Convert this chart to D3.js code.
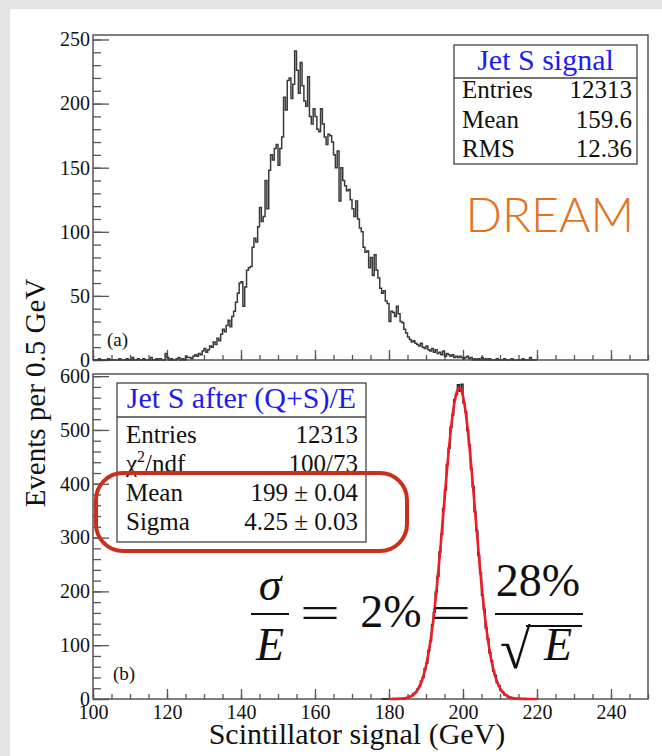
<!DOCTYPE html>
<html>
<head>
<meta charset="utf-8">
<script src="https://cdn.jsdelivr.net/npm/d3@7"></script>
<style>
  html, body { margin: 0; padding: 0; background: #e4e4e2; }
  svg { display: block; }
</style>
</head>
<body>
<svg id="chart" width="662" height="756"></svg>
<script>
// ---- data -------------------------------------------------------------
const binWidth = 0.5;                       // GeV per bin
const xTickValues = [100, 120, 140, 160, 180, 200, 220, 240];
const topYTicks = [0, 50, 100, 150, 200, 250];
const bottomYTicks = [0, 100, 200, 300, 400, 500, 600];

// Raw scintillator signal, bins from 100 GeV
const jetSFirstEdge = 100;
const jetSCounts = [
  0, 0, 0, 1, 0, 0, 0, 0, 1, 0,
  0, 0, 0, 0, 1, 0, 0, 0, 1, 0,
  0, 2, 0, 0, 1, 0, 0, 1, 0, 0,
  0, 2, 0, 0, 1, 0, 1, 0, 0, 5,
  2, 0, 1, 0, 0, 1, 2, 0, 1, 0,
  3, 2, 2, 1, 3, 4, 3, 5, 4, 7,
  9, 6, 8, 11, 10, 14, 12, 17, 15, 20,
  24, 22, 27, 31, 26, 34, 38, 45, 52, 60,
  61, 42, 57, 70, 72, 73, 88, 95, 92, 104,
  119, 108, 112, 140, 118, 148, 160, 156, 165, 168,
  152, 165, 174, 205, 195, 218, 220, 204, 215, 241,
  226, 208, 232, 214, 202, 198, 221, 190, 184, 196,
  190, 180, 178, 196, 184, 174, 168, 176, 175, 170,
  160, 150, 163, 124, 150, 140, 136, 132, 133, 125,
  118, 112, 124, 110, 103, 100, 88, 84, 85, 72,
  80, 66, 82, 70, 64, 56, 52, 54, 46, 44,
  30, 38, 37, 34, 42, 36, 30, 29, 24, 21,
  18, 16, 14, 15, 13, 12, 11, 13, 10, 9,
  11, 8, 7, 9, 6, 8, 5, 6, 4, 7,
  3, 5, 4, 3, 4, 2, 3, 2, 3, 2,
  1, 2, 3, 1, 2, 0, 1, 0, 1, 0,
  2, 0, 1, 0, 1, 0, 0, 0, 1, 0,
  0, 0, 1, 0, 0, 0, 1, 0, 0, 0,
  0, 0, 1, 0, 0, 0, 2, 0, 0, 0
];

// Signal after (Q+S)/E correction, bins from 178 GeV
const jetSCorrFirstEdge = 178;
const jetSCorrCounts = [
  0, 0, 0, 0, 0, 0, 1, 0, 0, 1,
  1, 0, 1, 2, 3, 5, 6, 10, 12, 18,
  23, 33, 40, 56, 67, 90, 108, 138, 161, 199,
  228, 273, 306, 354, 389, 436, 466, 505, 528, 556,
  566, 584, 572, 585, 550, 534, 499, 472, 428, 395,
  348, 313, 267, 234, 193, 167, 132, 112, 86, 71,
  52, 44, 30, 25, 16, 13, 8, 7, 4, 3,
  2, 1, 1, 0, 1, 0, 0, 1, 0, 0
];

// Gaussian fit parameters
const fitConstant = 578;
const fitMean = 199;
const fitSigma = 4.25;
const fitRange = [180, 220];

const statsTopTitle = "Jet S signal";
const statsTopLabels = ["Entries", "Mean", "RMS"];
const statsTopValues = ["12313", "159.6", "12.36"];
const statsBottomTitle = "Jet S after (Q+S)/E";
const statsBottomLabels = ["Entries", "χ2/ndf", "Mean", "Sigma"];
const statsBottomValues = ["12313", "100/73", "199 \u00b1 0.04", "4.25 \u00b1 0.03"];

// ---- layout -----------------------------------------------------------
const serif = "'Liberation Serif', 'Times New Roman', serif";
const svg = d3.select("#chart");

// white page
svg.append("rect").attr("x", 10).attr("y", 9).attr("width", 652).attr("height", 747).attr("fill", "#ffffff");

const x = d3.scaleLinear().domain([100, 250]).range([93, 648]);
const yTop = d3.scaleLinear().domain([0, 253.5]).range([360, 35]);
const yBot = d3.scaleLinear().domain([0, 604]).range([699, 374]);

function range(a, b, s) { const r = []; for (let v = a; v <= b + 1e-9; v += s) r.push(v); return r; }

function stepPath(first, counts, y) {
  const end = first + counts.length * binWidth;
  const pts = [[first, 0]];
  counts.forEach((c, i) => pts.push([first + i * binWidth, c]));
  pts.push([end, counts[counts.length - 1]]);
  pts.push([end, 0]);
  return d3.line().x(d => x(d[0])).y(d => y(d[1])).curve(d3.curveStepAfter)(pts);
}

function styleAxis(g) {
  g.attr("font-family", serif).attr("font-size", 20);
  g.select(".domain").remove();
  g.selectAll(".tick line").attr("stroke", "#555").attr("stroke-width", 1.3);
  g.selectAll("text").attr("font-family", serif).attr("font-size", 20).attr("fill", "#111");
}

function panel(y, yMajor, yMinorStep, showXLabels) {
  const [y0, y1] = y.range();
  // minor y ticks
  svg.append("g").attr("transform", `translate(${x(100)},0)`)
    .call(d3.axisLeft(y).tickValues(range(0, y.domain()[1], yMinorStep)).tickSize(-8).tickFormat(""))
    .call(styleAxis);
  // major y ticks with labels
  svg.append("g").attr("transform", `translate(${x(100)},0)`)
    .call(d3.axisLeft(y).tickValues(yMajor).tickSize(-16).tickPadding(3).tickFormat(d3.format("d")))
    .call(styleAxis);
  // minor x ticks
  svg.append("g").attr("transform", `translate(0,${y0})`)
    .call(d3.axisBottom(x).tickValues(range(100, 250, 5)).tickSize(-5).tickFormat(""))
    .call(styleAxis);
  // major x ticks
  const gx = svg.append("g").attr("transform", `translate(0,${y0})`)
    .call(d3.axisBottom(x).tickValues(xTickValues).tickSize(-10).tickFormat(showXLabels ? d3.format("d") : ""))
    .call(styleAxis);
  gx.selectAll("text").attr("y", 20).attr("dy", 0);
  // frame
  svg.append("rect").attr("x", x(100)).attr("y", y1).attr("width", x(250) - x(100)).attr("height", y0 - y1)
    .attr("fill", "none").attr("stroke", "#555").attr("stroke-width", 1.5);
}

// ---- top panel --------------------------------------------------------
panel(yTop, topYTicks, 10, false);
svg.append("path").attr("d", stepPath(jetSFirstEdge, jetSCounts, yTop))
  .attr("fill", "none").attr("stroke", "#3a3a3a").attr("stroke-width", 1.5);

svg.append("text").attr("x", 107).attr("y", 346).attr("font-family", serif).attr("font-size", 19).attr("fill", "#111").text("(a)");

function statBox(bx, by, bw, bh, titleH, title, titleBaseline, labels, values, rowBaselines, lx, rx) {
  const g = svg.append("g");
  g.append("rect").attr("x", bx).attr("y", by).attr("width", bw).attr("height", bh)
    .attr("fill", "#fff").attr("stroke", "#444").attr("stroke-width", 1.3);
  g.append("line").attr("x1", bx).attr("x2", bx + bw).attr("y1", by + titleH).attr("y2", by + titleH)
    .attr("stroke", "#444").attr("stroke-width", 1.3);
  g.append("text").attr("x", bx + bw / 2).attr("y", titleBaseline).attr("text-anchor", "middle")
    .attr("font-family", serif).attr("font-size", 30).attr("fill", "#1c1cf0").text(title);
  labels.forEach((l, i) => {
    const t = g.append("text").attr("x", lx).attr("y", rowBaselines[i]).attr("font-family", serif)
      .attr("font-size", 25).attr("fill", "#111");
    if (l === "χ2/ndf") {
      t.append("tspan").text("χ");
      t.append("tspan").attr("dy", -10).attr("font-size", 16).text("2");
      t.append("tspan").attr("dy", 10).text("/ndf");
    } else t.text(l);
    g.append("text").attr("x", rx).attr("y", rowBaselines[i]).attr("text-anchor", "end")
      .attr("font-family", serif).attr("font-size", 25).attr("fill", "#111").text(values[i]);
  });
}

statBox(454, 45, 183, 119, 33, statsTopTitle, 70, statsTopLabels, statsTopValues, [98, 128, 157], 462, 632);

svg.append("text").attr("x", 634).attr("y", 232).attr("text-anchor", "end")
  .attr("font-family", "Lato, 'Open Sans', sans-serif").attr("font-weight", 300)
  .attr("font-size", 48).attr("fill", "#e5721a").text("DREAM");

// ---- bottom panel -----------------------------------------------------
panel(yBot, bottomYTicks, 20, true);
svg.append("path").attr("d", stepPath(jetSCorrFirstEdge, jetSCorrCounts, yBot))
  .attr("fill", "none").attr("stroke", "#222").attr("stroke-width", 1.5);

const fitPts = range(fitRange[0], fitRange[1], 0.1)
  .map(v => [v, fitConstant * Math.exp(-0.5 * Math.pow((v - fitMean) / fitSigma, 2))]);
svg.append("path").attr("d", d3.line().x(d => x(d[0])).y(d => yBot(d[1])).curve(d3.curveBasis)(fitPts))
  .attr("fill", "none").attr("stroke", "#ee1c24").attr("stroke-width", 2.6);

svg.append("text").attr("x", 113).attr("y", 680).attr("font-family", serif).attr("font-size", 19).attr("fill", "#111").text("(b)");

statBox(117, 383, 249, 159, 34, statsBottomTitle, 408, statsBottomLabels, statsBottomValues, [443, 472, 501, 530], 126, 358);

// highlight around the fit results
svg.append("rect").attr("x", 96).attr("y", 473).attr("width", 311).attr("height", 78).attr("rx", 27)
  .attr("fill", "none").attr("stroke", "#c8301c").attr("stroke-width", 4);

// resolution formula
const fm = svg.append("g").attr("font-family", serif).attr("fill", "#111");
fm.append("text").attr("x", 270).attr("y", 600).attr("text-anchor", "middle").attr("font-style", "italic").attr("font-size", 46).text("σ");
fm.append("line").attr("x1", 251).attr("x2", 289).attr("y1", 614).attr("y2", 614).attr("stroke", "#111").attr("stroke-width", 2);
fm.append("text").attr("x", 270).attr("y", 660).attr("text-anchor", "middle").attr("font-style", "italic").attr("font-size", 46).text("E");
fm.append("text").attr("x", 300).attr("y", 628).attr("textLength", 40).attr("lengthAdjust", "spacingAndGlyphs").attr("font-size", 46).text("=");
fm.append("text").attr("x", 391).attr("y", 627).attr("text-anchor", "middle").attr("font-size", 46).text("2%");
fm.append("text").attr("x", 431).attr("y", 628).attr("textLength", 40).attr("lengthAdjust", "spacingAndGlyphs").attr("font-size", 46).text("=");
fm.append("text").attr("x", 538).attr("y", 596).attr("text-anchor", "middle").attr("font-size", 46).text("28%");
fm.append("line").attr("x1", 495).attr("x2", 583).attr("y1", 614).attr("y2", 614).attr("stroke", "#111").attr("stroke-width", 2);
fm.append("text").attr("x", 500).attr("y", 668).attr("font-size", 56).text("√");
fm.append("line").attr("x1", 526).attr("x2", 582).attr("y1", 626).attr("y2", 626).attr("stroke", "#111").attr("stroke-width", 1.8);
fm.append("text").attr("x", 558).attr("y", 660).attr("text-anchor", "middle").attr("font-style", "italic").attr("font-size", 46).text("E");

// axis titles
svg.append("text").attr("transform", "translate(45,393) rotate(-90)").attr("text-anchor", "middle")
  .attr("font-family", serif).attr("font-size", 29).attr("fill", "#111").text("Events per 0.5 GeV");
svg.append("text").attr("x", 357).attr("y", 744).attr("text-anchor", "middle")
  .attr("font-family", serif).attr("font-size", 30).attr("fill", "#111").text("Scintillator signal (GeV)");
</script>
</body>
</html>
